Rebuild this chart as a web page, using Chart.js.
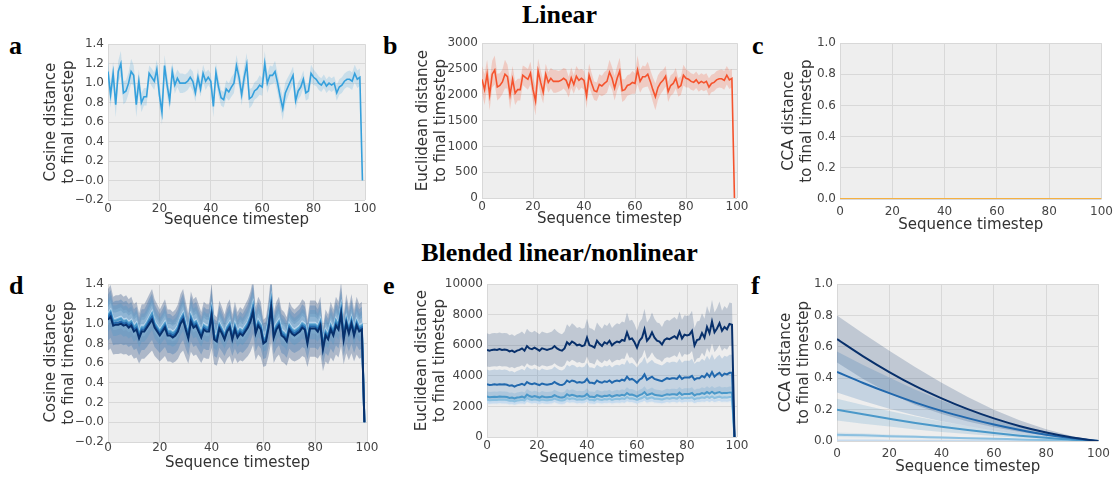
<!DOCTYPE html>
<html>
<head>
<meta charset="utf-8">
<script src="https://cdn.jsdelivr.net/npm/chart.js@4.4.0/dist/chart.umd.min.js"></script>
<style>
  body { margin: 0; background: #fff; }
  #fig { position: relative; width: 1119px; height: 477px; overflow: hidden; }
  .head { position: absolute; left: 0; width: 1119px; text-align: center; font: bold 26px 'Liberation Serif', serif; line-height: 26px; color: #000; }
  .tag { position: absolute; font: bold 26px 'Liberation Serif', serif; line-height: 26px; color: #000; }
  canvas { position: absolute; }
  #legendF { position: absolute; left: 1024px; top: 291px; font: 14px 'DejaVu Sans', sans-serif; color: #333; }
  #legendF .ttl { width: 70px; text-align: center; font-size: 15px; line-height: 20px; }
  #legendF .row { height: 20px; line-height: 20px; white-space: nowrap; }
  #legendF .sw { display: inline-block; width: 26px; height: 2px; margin: 0 12px 0 3px; vertical-align: middle; }
</style>
</head>
<body>
<div id="fig">
  <div class="head" style="top:2px">Linear</div>
  <div class="head" style="top:240px">Blended linear/nonlinear</div>
  <div class="tag" style="left:9px;top:33px">a</div>
  <div class="tag" style="left:383px;top:33px">b</div>
  <div class="tag" style="left:752px;top:33px">c</div>
  <div class="tag" style="left:9px;top:273px">d</div>
  <div class="tag" style="left:383px;top:273px">e</div>
  <div class="tag" style="left:751px;top:273px">f</div>
  <div id="legendF"></div>
</div>
<script>
// ---- data ----
var alphaLevels = ['1', '10', '25', '50', '100'];
var blues = ['#c6dbef', '#8cc0e0', '#4a98c9', '#2168ad', '#08306b'];

// a: cosine distance, linear
var cosLin = [
  1.12,0.88,1.10,0.78,1.12,1.20,0.90,0.92,1.00,1.12,
  1.08,0.78,1.02,0.80,0.86,0.86,1.10,1.06,1.02,1.14,
  0.88,0.70,1.18,0.98,0.82,1.12,0.98,1.05,1.00,1.00,
  1.00,1.02,1.06,1.02,0.90,1.06,0.94,1.10,1.02,1.06,
  1.02,0.76,1.11,0.96,0.85,0.83,0.94,0.91,0.96,1.00,
  1.18,1.06,0.88,1.06,1.19,0.84,0.86,0.92,0.94,0.98,
  0.96,1.20,1.00,1.08,1.08,1.12,1.00,0.86,0.74,0.90,
  0.96,1.02,1.08,0.82,0.92,0.96,1.04,0.90,0.92,1.10,
  1.06,1.04,1.00,0.98,1.02,0.97,1.00,0.98,1.00,0.90,
  0.96,0.98,1.02,1.04,1.04,1.02,1.10,1.04,1.06,0.00];
var cosLinSd = [
  0.12,0.13,0.12,0.13,0.11,0.13,0.12,0.11,0.11,0.13,
  0.10,0.13,0.12,0.10,0.09,0.09,0.08,0.09,0.09,0.10,
  0.11,0.13,0.11,0.11,0.10,0.09,0.09,0.09,0.10,0.10,
  0.09,0.09,0.09,0.10,0.09,0.09,0.08,0.09,0.09,0.08,
  0.08,0.11,0.10,0.09,0.08,0.08,0.09,0.09,0.10,0.10,
  0.11,0.10,0.11,0.11,0.12,0.10,0.09,0.09,0.09,0.10,
  0.09,0.13,0.10,0.10,0.09,0.11,0.10,0.11,0.12,0.11,
  0.10,0.09,0.09,0.09,0.09,0.09,0.09,0.08,0.08,0.09,
  0.08,0.07,0.07,0.07,0.07,0.07,0.07,0.07,0.07,0.08,
  0.08,0.08,0.08,0.08,0.09,0.09,0.09,0.09,0.09,0.00];

// b: euclidean distance, linear
var eucLin = [
  2300,2100,2400,2000,2400,2480,2150,2180,2250,2400,
  2350,2000,2300,2030,2100,2100,2380,2340,2300,2420,
  2100,1880,2460,2240,2050,2400,2240,2320,2260,2260,
  2260,2280,2320,2280,2150,2330,2200,2360,2280,2320,
  2280,1980,2380,2220,2080,2060,2200,2170,2220,2260,
  2440,2320,2130,2320,2460,2080,2100,2180,2200,2240,
  2220,2480,2260,2350,2350,2400,2260,2100,1960,2140,
  2230,2280,2360,2060,2180,2220,2320,2140,2180,2380,
  2320,2300,2260,2240,2290,2220,2260,2230,2260,2150,
  2220,2240,2290,2310,2310,2280,2380,2290,2320,0];
var eucLinSd = [
  260,300,280,300,260,280,260,240,240,280,
  230,280,260,230,210,210,190,200,200,220,
  240,280,240,240,220,200,200,200,220,220,
  200,200,200,220,200,200,180,200,200,180,
  180,240,220,200,180,180,200,200,220,220,
  240,220,240,240,260,220,200,200,200,220,
  200,280,220,220,200,240,220,240,260,240,
  220,200,200,200,200,200,200,180,180,200,
  180,160,160,160,160,160,160,160,160,170,
  170,170,170,170,180,180,180,180,180,0];

// c: CCA distance, linear
var ccaLinSteps = [0,10,20,30,40,50,60,70,80,90,100];
var ccaLin = [0,0,0,0,0,0,0,0,0,0,0];

// d: cosine distance, blended (alpha 1, 10, 25, 50, 100)
var cosBl1 = [
  1.10,1.14,1.05,1.05,1.06,1.07,1.04,1.05,1.02,1.04,
  0.98,1.01,0.91,0.98,0.98,1.02,1.07,1.12,1.02,0.98,
  0.94,0.98,1.02,0.94,0.94,0.92,0.94,0.98,1.06,1.11,
  1.00,0.91,1.09,1.02,1.04,0.98,0.92,1.00,0.98,0.98,
  1.15,0.90,0.88,1.01,0.96,0.90,0.98,1.02,0.90,1.00,
  0.92,0.96,0.94,0.98,1.02,1.09,1.20,0.96,1.04,1.00,
  0.86,0.88,1.02,1.24,0.92,1.00,1.04,0.94,0.92,0.88,
  1.00,0.96,0.94,0.96,0.98,1.02,1.00,0.86,1.01,1.01,
  1.01,0.98,1.04,0.80,0.94,0.90,1.00,0.94,1.05,1.00,
  1.17,0.90,1.06,0.96,1.06,0.94,1.04,0.98,1.00,0.00];
var cosBl10 = [
  1.09,1.13,1.04,1.04,1.05,1.06,1.03,1.04,1.01,1.03,
  0.97,1.00,0.90,0.97,0.97,1.01,1.06,1.11,1.01,0.97,
  0.93,0.97,1.01,0.93,0.93,0.91,0.93,0.97,1.05,1.10,
  0.99,0.90,1.08,1.01,1.03,0.97,0.91,0.99,0.97,0.97,
  1.14,0.89,0.87,1.00,0.95,0.89,0.97,1.01,0.89,0.99,
  0.91,0.95,0.93,0.97,1.01,1.08,1.19,0.95,1.03,0.99,
  0.85,0.87,1.01,1.23,0.91,0.99,1.03,0.93,0.91,0.87,
  0.99,0.95,0.93,0.95,0.97,1.01,0.99,0.85,1.00,1.00,
  1.00,0.97,1.03,0.79,0.93,0.89,0.99,0.93,1.04,0.99,
  1.16,0.89,1.05,0.95,1.05,0.93,1.03,0.97,0.99,0.00];
var cosBl25 = [
  1.08,1.12,1.03,1.03,1.04,1.05,1.02,1.03,1.00,1.02,
  0.96,0.99,0.89,0.96,0.96,1.00,1.05,1.10,1.00,0.96,
  0.92,0.96,1.00,0.92,0.92,0.90,0.92,0.96,1.04,1.09,
  0.98,0.89,1.07,1.00,1.02,0.96,0.90,0.98,0.96,0.96,
  1.13,0.88,0.86,0.99,0.94,0.88,0.96,1.00,0.88,0.98,
  0.90,0.94,0.92,0.96,1.00,1.07,1.18,0.94,1.02,0.98,
  0.84,0.86,1.00,1.22,0.90,0.98,1.02,0.92,0.90,0.86,
  0.98,0.94,0.92,0.94,0.96,1.00,0.98,0.84,0.99,0.99,
  0.99,0.96,1.02,0.78,0.92,0.88,0.98,0.92,1.03,0.98,
  1.15,0.88,1.04,0.94,1.04,0.92,1.02,0.96,0.98,0.00];
var cosBl50 = [
  1.06,1.10,1.00,1.01,1.01,1.02,1.00,1.01,0.98,1.00,
  0.94,0.96,0.87,0.94,0.94,0.98,1.03,1.07,0.98,0.94,
  0.90,0.94,0.98,0.90,0.90,0.88,0.90,0.94,1.02,1.07,
  0.96,0.87,1.05,0.98,1.00,0.94,0.88,0.96,0.94,0.94,
  1.11,0.86,0.84,0.97,0.92,0.86,0.94,0.98,0.86,0.96,
  0.88,0.92,0.90,0.94,0.98,1.05,1.15,0.92,1.00,0.96,
  0.82,0.84,0.98,1.19,0.88,0.96,1.00,0.90,0.88,0.84,
  0.96,0.92,0.90,0.92,0.94,0.98,0.96,0.82,0.97,0.97,
  0.97,0.94,1.00,0.76,0.90,0.86,0.96,0.90,1.00,0.96,
  1.12,0.86,1.02,0.92,1.02,0.90,1.00,0.94,0.96,0.00];
var cosBl100 = [
  1.04,1.07,0.98,0.99,0.99,1.00,0.98,0.99,0.96,0.98,
  0.92,0.94,0.85,0.92,0.92,0.96,1.00,1.04,0.96,0.92,
  0.88,0.92,0.96,0.88,0.88,0.86,0.88,0.92,1.00,1.04,
  0.94,0.85,1.02,0.96,0.98,0.92,0.86,0.94,0.92,0.92,
  1.08,0.84,0.82,0.95,0.90,0.84,0.92,0.96,0.84,0.94,
  0.86,0.90,0.88,0.92,0.96,1.02,1.12,0.90,0.98,0.94,
  0.80,0.82,0.96,1.16,0.86,0.94,0.98,0.88,0.86,0.82,
  0.94,0.90,0.88,0.90,0.92,0.96,0.94,0.80,0.95,0.95,
  0.95,0.92,0.98,0.74,0.88,0.84,0.94,0.88,0.98,0.94,
  1.10,0.84,1.00,0.90,1.00,0.88,0.98,0.92,0.94,0.00];
// band half-width as a fraction of the mean, per alpha
var cosBlSpread = [0.06, 0.10, 0.15, 0.22, 0.30];

// e: euclidean distance, blended
var eucBl1 = [
  2300,2260,2280,2290,2270,2300,2280,2290,2270,2230,
  2250,2200,2250,2270,2290,2250,2400,2320,2270,2310,
  2280,2240,2300,2270,2250,2270,2290,2360,2290,2250,
  2240,2270,2390,2320,2360,2340,2280,2310,2280,2310,
  2400,2270,2270,2250,2340,2300,2270,2310,2300,2340,
  2270,2310,2340,2310,2360,2320,2430,2350,2360,2320,
  2260,2330,2370,2460,2330,2370,2410,2340,2330,2310,
  2280,2320,2370,2330,2370,2370,2330,2420,2330,2370,
  2370,2370,2400,2290,2350,2350,2400,2370,2440,2370,
  2450,2360,2400,2430,2370,2400,2380,2410,2410,0];
var eucBl10 = [
  2450,2400,2420,2440,2420,2450,2430,2440,2420,2370,
  2390,2330,2390,2410,2440,2390,2560,2470,2420,2470,
  2430,2390,2450,2420,2400,2420,2440,2520,2450,2400,
  2390,2420,2560,2480,2530,2500,2440,2470,2440,2470,
  2580,2430,2430,2400,2510,2460,2430,2480,2460,2510,
  2430,2480,2510,2480,2530,2490,2620,2520,2540,2490,
  2420,2500,2550,2660,2500,2550,2600,2510,2500,2480,
  2450,2500,2550,2510,2550,2550,2510,2620,2510,2560,
  2560,2560,2600,2470,2540,2540,2600,2560,2650,2560,
  2660,2550,2600,2640,2570,2600,2580,2610,2610,0];
var eucBl25 = [
  2650,2600,2620,2640,2620,2650,2630,2640,2620,2560,
  2580,2520,2580,2600,2640,2580,2780,2680,2620,2680,
  2630,2580,2660,2620,2600,2620,2640,2740,2660,2600,
  2580,2620,2800,2700,2760,2720,2650,2680,2650,2680,
  2820,2640,2640,2600,2740,2680,2640,2700,2680,2740,
  2640,2700,2740,2700,2760,2720,2880,2760,2780,2720,
  2640,2740,2800,2940,2740,2800,2860,2760,2740,2720,
  2680,2740,2800,2760,2800,2800,2760,2900,2760,2820,
  2820,2820,2880,2720,2800,2800,2880,2820,2940,2840,
  2960,2840,2900,2940,2860,2900,2880,2920,2920,0];
var eucBl50 = [
  3450,3400,3420,3450,3420,3450,3430,3450,3420,3350,
  3380,3300,3380,3420,3480,3400,3600,3500,3450,3520,
  3450,3400,3500,3450,3420,3450,3480,3600,3500,3420,
  3400,3480,3700,3600,3700,3650,3550,3600,3550,3600,
  3800,3550,3550,3500,3700,3600,3550,3650,3600,3700,
  3550,3650,3700,3650,3750,3700,3950,3750,3800,3700,
  3550,3750,3850,4100,3750,3850,3950,3800,3750,3700,
  3650,3750,3850,3800,3850,3850,3800,4000,3800,3900,
  3900,3900,4000,3750,3850,3850,4000,3900,4150,3950,
  4250,3950,4100,4200,4000,4150,4100,4200,4200,0];
var eucBl100 = [
  5700,5650,5700,5720,5700,5750,5700,5720,5700,5600,
  5650,5550,5650,5700,5800,5650,5950,5800,5750,5850,
  5750,5650,5800,5750,5700,5750,5800,5950,5800,5700,
  5650,5800,6200,6050,6250,6150,6000,6050,5950,6000,
  6500,6000,5950,5850,6300,6100,5950,6200,6100,6300,
  6000,6150,6250,6200,6350,6300,6850,6400,6450,6200,
  5850,6300,6500,7050,6300,6500,6850,6500,6300,6250,
  6050,6350,6450,6400,6500,6600,6450,6900,6450,6700,
  6650,6700,6950,6000,6350,6400,6800,6500,7200,6800,
  7550,6850,7100,7450,6950,7200,7050,7400,7350,0];
var eucBlSpread = [0.07, 0.10, 0.13, 0.28, 0.19];

// f: CCA distance, blended
var ccaBlSteps = [0,10,20,30,40,50,60,70,80,90,100];
var ccaBl1 =   [0.003,0.003,0.002,0.002,0.002,0.001,0.001,0.001,0.001,0.000,0.0];
var ccaBl10 =  [0.040,0.036,0.031,0.027,0.022,0.018,0.014,0.010,0.006,0.003,0.0];
var ccaBl25 =  [0.200,0.170,0.142,0.115,0.091,0.070,0.051,0.034,0.020,0.008,0.0];
var ccaBl50 =  [0.440,0.370,0.305,0.245,0.192,0.146,0.105,0.070,0.040,0.017,0.0];
var ccaBl100 = [0.650,0.540,0.440,0.350,0.272,0.203,0.144,0.094,0.054,0.022,0.0];
var ccaBl1Sd =   [0.003,0.003,0.002,0.002,0.002,0.001,0.001,0.001,0.001,0.000,0.0];
var ccaBl10Sd =  [0.015,0.013,0.011,0.010,0.008,0.006,0.005,0.004,0.002,0.001,0.0];
var ccaBl25Sd =  [0.070,0.060,0.050,0.042,0.034,0.026,0.019,0.013,0.008,0.003,0.0];
var ccaBl50Sd =  [0.130,0.115,0.100,0.082,0.066,0.051,0.037,0.025,0.014,0.006,0.0];
var ccaBl100Sd = [0.150,0.145,0.135,0.120,0.100,0.078,0.056,0.037,0.021,0.008,0.0];

// ---- helpers ----
var FONT = "'DejaVu Sans', sans-serif";
var PAD_T = 10, PAD_R = 14;
var fig = document.getElementById('fig');

var plotBg = {
  id: 'plotBg',
  beforeDraw: function( chart ) {
    var a = chart.chartArea, ctx = chart.ctx;
    ctx.save();
    ctx.fillStyle = '#eeeeee';
    ctx.fillRect( a.left, a.top, a.right - a.left, a.bottom - a.top );
    ctx.restore();
  }
};

function idx( arr ) { return arr.map( function( _, i ) { return i; } ); }
function pts( xs, ys ) { return xs.map( function( x, i ) { return { x: x, y: ys[i] }; } ); }
function rgba( hex, a ) {
  var n = parseInt( hex.slice( 1 ), 16 );
  return 'rgba(' + ( n >> 16 ) + ',' + ( ( n >> 8 ) & 255 ) + ',' + ( n & 255 ) + ',' + a + ')';
}

function addBand( list, xs, lo, hi, color ) {
  list.push( { data: pts( xs, lo ), borderWidth: 0, pointRadius: 0, fill: false, order: 20 } );
  list.push( { data: pts( xs, hi ), borderWidth: 0, pointRadius: 0, fill: '-1', backgroundColor: color, order: 20 } );
}
function addLine( list, xs, ys, color, width, order, smooth ) {
  list.push( { data: pts( xs, ys ), borderColor: color, borderWidth: width, pointRadius: 0, fill: false,
    tension: smooth ? 0.4 : 0, cubicInterpolationMode: smooth ? 'monotone' : 'default', order: order } );
}
function sdBand( list, xs, mean, sd, color ) {
  addBand( list, xs,
    mean.map( function( v, i ) { return v - sd[i]; } ),
    mean.map( function( v, i ) { return v + sd[i]; } ), color );
}
function relBand( list, xs, mean, frac, color ) {
  addBand( list, xs,
    mean.map( function( v ) { return v * ( 1 - frac ); } ),
    mean.map( function( v ) { return v * ( 1 + frac ); } ), color );
}

var fmt1 = function( v ) { return v.toFixed( 1 ).replace( '-', '\u2212' ); };
var fmtInt = function( v ) { return String( Math.round( v ) ); };

function panel( box, yw, xh, xPad, y, yTitle, datasets ) {
  var cv = document.createElement( 'canvas' );
  var w = yw + ( box.r - box.l ) + PAD_R, h = PAD_T + ( box.b - box.t ) + xh;
  cv.width = w; cv.height = h;
  cv.style.left = ( box.l - yw ) + 'px';
  cv.style.top = ( box.t - PAD_T ) + 'px';
  cv.style.width = w + 'px'; cv.style.height = h + 'px';
  fig.appendChild( cv );
  var grid = { color: '#d8d8d8', lineWidth: 1, drawTicks: false };
  new Chart( cv, {
    type: 'line',
    data: { datasets: datasets },
    options: {
      responsive: false, animation: false, devicePixelRatio: 1,
      layout: { padding: { top: PAD_T, right: PAD_R, left: 0, bottom: 0 } },
      plugins: { legend: { display: false }, tooltip: { enabled: false } },
      scales: {
        x: {
          type: 'linear', min: 0, max: 100,
          ticks: { stepSize: 20, color: '#444', font: { size: 12, family: FONT }, padding: xPad, maxRotation: 0 },
          grid: grid, border: { display: false },
          title: { display: true, text: 'Sequence timestep', color: '#333', font: { size: 15, family: FONT }, padding: 0 },
          afterFit: function( s ) { s.height = xh; }
        },
        y: {
          min: y.min, max: y.max,
          ticks: { stepSize: y.step, callback: y.fmt, color: '#444', font: { size: 12, family: FONT }, padding: 4 },
          grid: grid, border: { display: false },
          title: { display: true, text: yTitle, color: '#333', font: { size: 15, family: FONT }, padding: 0 },
          afterFit: function( s ) { s.width = yw; }
        }
      }
    },
    plugins: [ plotBg ]
  } );
}

// ---- a ----
var dsA = [];
sdBand( dsA, idx( cosLin ), cosLin, cosLinSd, 'rgba(53,160,220,0.2)' );
addLine( dsA, idx( cosLin ), cosLin, '#35a0dc', 1.6, 1 );
panel( { l: 108, t: 43, r: 365, b: 200 }, 66, 29, 2, { min: -0.2, max: 1.4, step: 0.2, fmt: fmt1 },
  [ 'Cosine distance', 'to final timestep' ], dsA );

// ---- b ----
var dsB = [];
sdBand( dsB, idx( eucLin ), eucLin, eucLinSd, 'rgba(245,83,45,0.22)' );
addLine( dsB, idx( eucLin ), eucLin, '#f5532d', 1.6, 1 );
panel( { l: 482, t: 42, r: 737, b: 198 }, 68, 30, 2, { min: 0, max: 3000, step: 500, fmt: fmtInt },
  [ 'Euclidean distance', 'to final timestep' ], dsB );

// ---- c ----
var dsC = [];
addLine( dsC, ccaLinSteps, ccaLin, '#f5b041', 2, 1 );
panel( { l: 840, t: 42, r: 1105, b: 199 }, 60, 35, 6, { min: 0, max: 1, step: 0.2, fmt: fmt1 },
  [ 'CCA distance', 'to final timestep' ], dsC );

// ---- d ----
var cosBl = [ cosBl1, cosBl10, cosBl25, cosBl50, cosBl100 ];
var dsD = [];
cosBl.forEach( function( m, k ) { relBand( dsD, idx( m ), m, cosBlSpread[k], rgba( blues[k], 0.28 ) ); } );
cosBl.forEach( function( m, k ) { addLine( dsD, idx( m ), m, blues[k], 2, 5 - k ); } );
panel( { l: 108, t: 283, r: 367, b: 442 }, 66, 30, -1, { min: -0.2, max: 1.4, step: 0.2, fmt: fmt1 },
  [ 'Cosine distance', 'to final timestep' ], dsD );

// ---- e ----
var eucBl = [ eucBl1, eucBl10, eucBl25, eucBl50, eucBl100 ];
var dsE = [];
eucBl.forEach( function( m, k ) { relBand( dsE, idx( m ), m, eucBlSpread[k], rgba( blues[k], 0.2 ) ); } );
eucBl.forEach( function( m, k ) { addLine( dsE, idx( m ), m, blues[k], 2, 5 - k ); } );
panel( { l: 487, t: 283, r: 737, b: 437 }, 74, 30, 2, { min: 0, max: 10000, step: 2000, fmt: fmtInt },
  [ 'Euclidean distance', 'to final timestep' ], dsE );

// ---- f ----
var ccaBl = [ ccaBl1, ccaBl10, ccaBl25, ccaBl50, ccaBl100 ];
var ccaBlSd = [ ccaBl1Sd, ccaBl10Sd, ccaBl25Sd, ccaBl50Sd, ccaBl100Sd ];
var dsF = [];
ccaBl.forEach( function( m, k ) { sdBand( dsF, ccaBlSteps, m, ccaBlSd[k], rgba( blues[k], 0.2 ) ); } );
ccaBl.forEach( function( m, k ) { addLine( dsF, ccaBlSteps, m, blues[k], 2, 5 - k, true ); } );
panel( { l: 837, t: 283, r: 1102, b: 441 }, 60, 35, 6, { min: 0, max: 1, step: 0.2, fmt: fmt1 },
  [ 'CCA distance', 'to final timestep' ], dsF );

// legend for f
var lg = document.getElementById( 'legendF' );
var html = '<div class="ttl">Alpha</div>';
alphaLevels.forEach( function( a, k ) {
  html += '<div class="row"><span class="sw" style="background:' + blues[k] + '"></span>' + a + '</div>';
} );
lg.innerHTML = html;
</script>
</body>
</html>
